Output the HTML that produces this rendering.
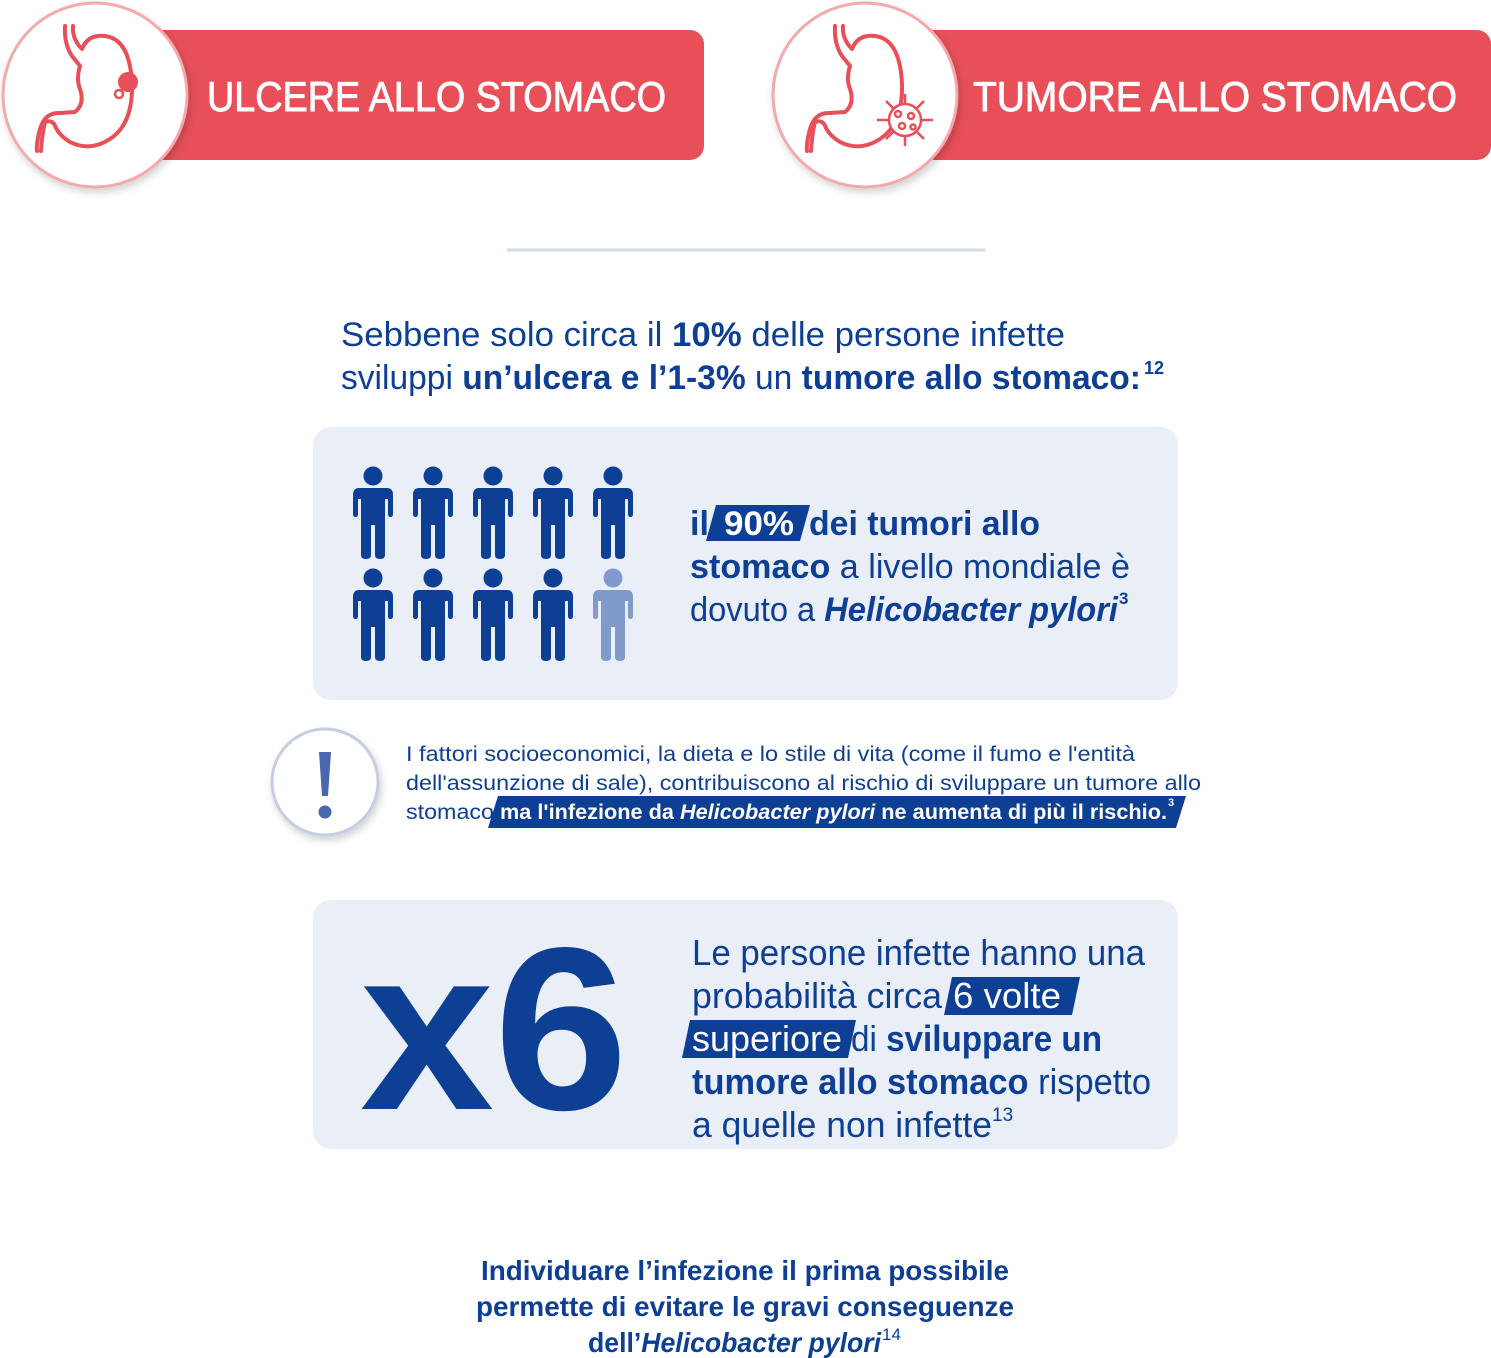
<!DOCTYPE html>
<html><head><meta charset="utf-8"><style>
html,body{margin:0;padding:0;background:#fff;}
svg{display:block;}
text{font-family:"Liberation Sans",sans-serif;}
</style></head><body>
<svg width="1491" height="1358" viewBox="0 0 1491 1358" xmlns="http://www.w3.org/2000/svg">
<defs>
<filter id="sh" x="-20%" y="-20%" width="140%" height="140%"><feDropShadow dx="2" dy="4" stdDeviation="4" flood-color="#000" flood-opacity="0.18"/></filter>
<g id="p">
<circle cx="0" cy="9" r="9.5"/>
<path d="M-14 21 Q-20 21 -20 28 L-20 47 Q-20 50 -17.5 50 Q-15 50 -15 47 L-15 32 L-12 32 L-12 88 Q-12 92 -7 92 Q-2 92 -2 88 L-2 58 L2 58 L2 88 Q2 92 7 92 Q12 92 12 88 L12 32 L15 32 L15 47 Q15 50 17.5 50 Q20 50 20 47 L20 28 Q20 21 14 21 Z"/>
</g>
<g id="stom" fill="none" stroke="#e84f58" stroke-width="4" stroke-linecap="round" stroke-linejoin="round">
<path d="M-35 -68 Q-36 -50 -28 -38 L-20 -28"/>
<path d="M-27 -68 Q-28 -55 -18 -45 Q-12 -60 5 -58 Q30 -55 32 -10 Q33 30 10 45 Q-10 58 -30 48 Q-40 42 -44 34"/>
<path d="M-20 -28 Q-24 -15 -20 -5 Q-15 10 -25 18 L-40 19 Q-55 18 -60 35 Q-64 50 -63 57"/>
<path d="M-44 34 Q-47 25 -55 28 Q-58 40 -59 57"/>
</g>
</defs>

<rect x="150" y="30" width="554" height="130" rx="14" fill="#e84f58"/>
<rect x="920" y="30" width="571" height="130" rx="14" fill="#e84f58"/>
<circle cx="95" cy="95" r="92" fill="#fff" stroke="#f4a9ad" stroke-width="3" filter="url(#sh)"/>
<circle cx="865" cy="95" r="92" fill="#fff" stroke="#f4a9ad" stroke-width="3" filter="url(#sh)"/>
<use href="#stom" x="100" y="94"/>
<circle cx="128" cy="82" r="10" fill="#e84f58"/><circle cx="119" cy="94" r="4" fill="none" stroke="#e84f58" stroke-width="2.5"/>
<use href="#stom" x="870" y="94"/>
<g stroke="#e84f58" stroke-width="2.5" fill="#fff">
<circle cx="905" cy="120" r="16"/>
<circle cx="898" cy="114" r="3"/><circle cx="911" cy="116" r="3"/><circle cx="902" cy="126" r="3"/><circle cx="913" cy="127" r="2.5"/>
<path d="M905 104 V94 M905 136 V146 M889 120 H877 M921 120 H933 M894 109 L886 101 M916 109 L924 101 M894 131 L886 139 M916 131 L924 139" fill="none"/>
</g>
<text x="207" y="111" font-size="42" fill="#fff" stroke="#fff" stroke-width="0.9" textLength="459" lengthAdjust="spacingAndGlyphs">ULCERE ALLO STOMACO</text>
<text x="973" y="111" font-size="42" fill="#fff" stroke="#fff" stroke-width="0.9" textLength="484" lengthAdjust="spacingAndGlyphs">TUMORE ALLO STOMACO</text>

<line x1="507" y1="250" x2="985" y2="250" stroke="#d3dbe8" stroke-width="3"/>

<g fill="#0d3f94">
<text x="341" y="346" font-size="34" textLength="724" lengthAdjust="spacingAndGlyphs">Sebbene solo circa il <tspan font-weight="bold">10%</tspan> delle persone infette</text>
<text x="341" y="389" font-size="34" textLength="800" lengthAdjust="spacingAndGlyphs">sviluppi <tspan font-weight="bold">un’ulcera e l’1-3%</tspan> un <tspan font-weight="bold">tumore allo stomaco:</tspan></text>
<text x="1144" y="374" font-size="18" font-weight="bold">12</text>
</g>

<rect x="313" y="427" width="865" height="273" rx="18" fill="#e9eef7"/>
<g fill="#0d3f94">
<use href="#p" x="373" y="467"/><use href="#p" x="433" y="467"/><use href="#p" x="493" y="467"/><use href="#p" x="553" y="467"/><use href="#p" x="613" y="467"/>
<use href="#p" x="373" y="569"/><use href="#p" x="433" y="569"/><use href="#p" x="493" y="569"/><use href="#p" x="553" y="569"/>
</g>
<use href="#p" x="613" y="569" fill="#7f9acb"/>
<polygon points="716,505 810,505 800,541 706,541" fill="#0d3f94"/>
<g fill="#0d3f94" font-size="34">
<text x="690" y="535" font-weight="bold">il</text>
<text x="724" y="535" font-weight="bold" fill="#fff" textLength="70" lengthAdjust="spacingAndGlyphs">90%</text>
<text x="809" y="535" font-weight="bold" textLength="231" lengthAdjust="spacingAndGlyphs">dei tumori allo</text>
<text x="690" y="578" textLength="440" lengthAdjust="spacingAndGlyphs"><tspan font-weight="bold">stomaco</tspan> a livello mondiale è</text>
<text x="690" y="621" textLength="428" lengthAdjust="spacingAndGlyphs">dovuto a <tspan font-weight="bold" font-style="italic">Helicobacter pylori</tspan></text>
<text x="1119" y="604" font-size="17" font-weight="bold">3</text>
</g>

<circle cx="325" cy="782" r="53" fill="#fff" stroke="#c5cde3" stroke-width="3" filter="url(#sh)"/>
<path d="M319 752 L331 752 L328 796 L322 796 Z" fill="#4a68ad"/>
<circle cx="325" cy="812" r="6.5" fill="#4a68ad"/>
<polygon points="498,796 1186,796 1176,828 488,828" fill="#0d3f94"/>
<g font-size="21" fill="#0d3f94">
<text x="406" y="761" textLength="729" lengthAdjust="spacingAndGlyphs">I fattori socioeconomici, la dieta e lo stile di vita (come il fumo e l'entità</text>
<text x="406" y="790" textLength="795" lengthAdjust="spacingAndGlyphs">dell'assunzione di sale), contribuiscono al rischio di sviluppare un tumore allo</text>
<text x="406" y="819" textLength="88" lengthAdjust="spacingAndGlyphs">stomaco</text>
<text x="500" y="819" fill="#fff" font-weight="bold" textLength="667" lengthAdjust="spacingAndGlyphs">ma l'infezione da <tspan font-style="italic">Helicobacter pylori</tspan> ne aumenta di più il rischio.</text>
<text x="1168" y="806" fill="#fff" font-size="11" font-weight="bold">3</text>
</g>

<rect x="313" y="900" width="865" height="249" rx="18" fill="#e9eef7"/>
<text x="360" y="1109" font-size="232" font-weight="bold" fill="#0d3f94" textLength="268" lengthAdjust="spacingAndGlyphs">x6</text>
<polygon points="952,977 1080,977 1072,1015 944,1015" fill="#0d3f94"/>
<polygon points="690,1020 856,1020 848,1058 682,1058" fill="#0d3f94"/>
<g font-size="36" fill="#0d3f94">
<text x="692" y="965" textLength="453" lengthAdjust="spacingAndGlyphs">Le persone infette hanno una</text>
<text x="692" y="1008" textLength="250" lengthAdjust="spacingAndGlyphs">probabilità circa</text>
<text x="953" y="1008" fill="#fff" textLength="108" lengthAdjust="spacingAndGlyphs">6 volte</text>
<text x="692" y="1051" fill="#fff" textLength="150" lengthAdjust="spacingAndGlyphs">superiore</text>
<text x="851" y="1051" textLength="251" lengthAdjust="spacingAndGlyphs">di <tspan font-weight="bold">sviluppare un</tspan></text>
<text x="692" y="1094" textLength="459" lengthAdjust="spacingAndGlyphs"><tspan font-weight="bold">tumore allo stomaco</tspan> rispetto</text>
<text x="692" y="1137" textLength="300" lengthAdjust="spacingAndGlyphs">a quelle non infette</text>
<text x="992" y="1121" font-size="19">13</text>
</g>

<g font-size="28" font-weight="bold" fill="#0d3f94" text-anchor="middle">
<text x="745" y="1280" textLength="528" lengthAdjust="spacingAndGlyphs">Individuare l’infezione il prima possibile</text>
<text x="745" y="1316" textLength="538" lengthAdjust="spacingAndGlyphs">permette di evitare le gravi conseguenze</text>
</g>
<text x="588" y="1352" font-size="28" font-weight="bold" fill="#0d3f94" textLength="293" lengthAdjust="spacingAndGlyphs">dell’<tspan font-style="italic">Helicobacter pylori</tspan></text>
<text x="882" y="1340" font-size="17" fill="#0d3f94">14</text>
</svg>
</body></html>
